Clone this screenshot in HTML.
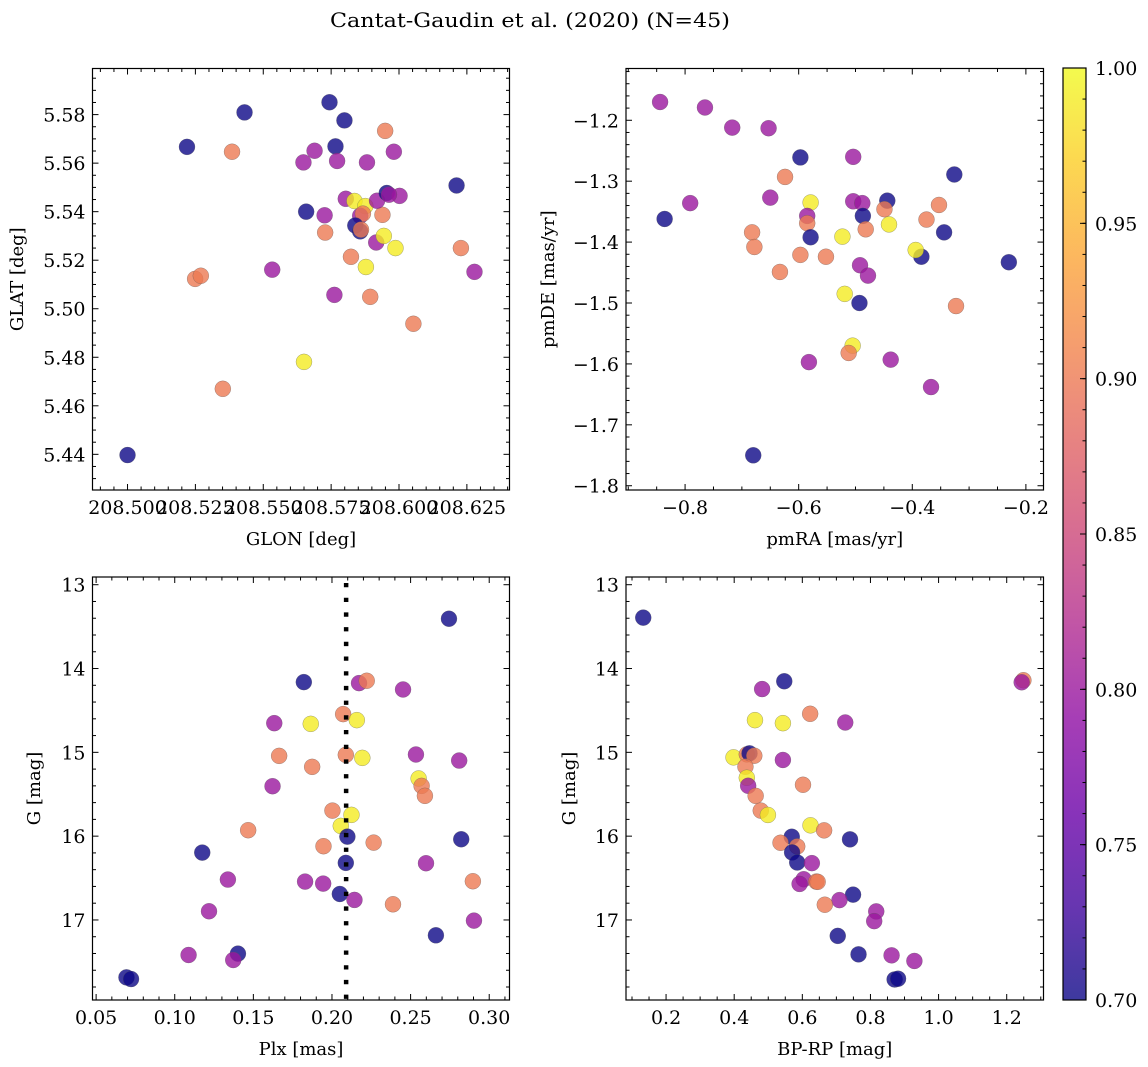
<!DOCTYPE html>
<html><head><meta charset="utf-8">
<style>
html,body{margin:0;padding:0;background:#fff;}
svg{display:block;font-family:"DejaVu Serif","Liberation Serif",serif;}
</style></head>
<body>
<svg id="fig" width="1148" height="1067" viewBox="0 0 1148 1067" xmlns="http://www.w3.org/2000/svg">
<rect width="1148" height="1067" fill="#fff"/>
<text x="530" y="27" font-size="20" text-anchor="middle" fill="#000" textLength="400" lengthAdjust="spacingAndGlyphs">Cantat-Gaudin et al. (2020) (N=45)</text>
<g id="layer"></g>
</svg>
<script>
// ---- Panel 1: GLON / GLAT ----
const glon = [208.5000,208.5219,208.5431,208.5385,208.5351,208.5249,208.5270,208.5533,208.5650,208.5658,208.5744,208.5799,208.5766,208.5648,208.5689,208.5772,208.5882,208.5981,208.5949,208.5726,208.5728,208.5804,208.5836,208.5876,208.5857,208.5867,208.5939,208.5919,208.5955,208.6002,208.5839,208.5857,208.5860,208.5823,208.5878,208.5916,208.5944,208.5987,208.5762,208.5894,208.6053,208.6212,208.6228,208.6278,208.5963];
const glat = [5.4397,5.5667,5.5809,5.5647,5.4670,5.5123,5.5136,5.5161,5.4781,5.5400,5.5851,5.5776,5.5669,5.5603,5.5651,5.5609,5.5603,5.5647,5.5733,5.5385,5.5314,5.5453,5.5444,5.5423,5.5383,5.5392,5.5387,5.5445,5.5477,5.5465,5.5343,5.5319,5.5326,5.5214,5.5172,5.5273,5.5300,5.5250,5.5057,5.5049,5.4938,5.5508,5.5250,5.5152,5.5470];
const prob1 = [0.70,0.70,0.70,0.90,0.90,0.90,0.90,0.80,0.99,0.70,0.70,0.70,0.70,0.80,0.80,0.80,0.80,0.80,0.90,0.80,0.90,0.80,0.99,0.99,0.80,0.90,0.90,0.80,0.70,0.80,0.70,0.70,0.90,0.90,0.99,0.80,0.99,0.99,0.80,0.90,0.90,0.70,0.90,0.80,0.80];
// ---- Panel 2: pmRA / pmDE ----
const pmra = [-0.844,-0.765,-0.717,-0.653,-0.597,-0.504,-0.624,-0.326,-0.791,-0.836,-0.650,-0.579,-0.585,-0.585,-0.579,-0.682,-0.678,-0.597,-0.552,-0.633,-0.523,-0.504,-0.488,-0.487,-0.482,-0.444,-0.449,-0.441,-0.492,-0.478,-0.519,-0.493,-0.505,-0.512,-0.582,-0.438,-0.367,-0.323,-0.680,-0.375,-0.353,-0.344,-0.384,-0.394,-0.230];
const pmde = [-1.170,-1.179,-1.212,-1.213,-1.261,-1.260,-1.293,-1.289,-1.336,-1.362,-1.327,-1.335,-1.357,-1.369,-1.392,-1.384,-1.408,-1.421,-1.424,-1.449,-1.391,-1.333,-1.336,-1.357,-1.379,-1.332,-1.346,-1.371,-1.438,-1.455,-1.485,-1.500,-1.570,-1.582,-1.597,-1.593,-1.638,-1.505,-1.750,-1.363,-1.339,-1.384,-1.424,-1.413,-1.433];
const prob2 = [0.80,0.80,0.80,0.80,0.70,0.80,0.90,0.70,0.80,0.70,0.80,0.99,0.80,0.90,0.70,0.90,0.90,0.90,0.90,0.90,0.99,0.80,0.80,0.70,0.90,0.70,0.90,0.99,0.80,0.80,0.99,0.70,0.99,0.90,0.80,0.80,0.80,0.90,0.70,0.90,0.90,0.70,0.70,0.99,0.70];
// ---- Panel 3: Plx / G ----
const plx = [0.2744,0.1821,0.2172,0.2221,0.2452,0.2071,0.2158,0.1865,0.1633,0.1664,0.2088,0.2193,0.2534,0.2809,0.1874,0.1622,0.2551,0.2570,0.2591,0.2003,0.2124,0.2056,0.1467,0.2098,0.2822,0.1175,0.1946,0.2265,0.2088,0.2598,0.1338,0.1829,0.1944,0.2896,0.2050,0.2143,0.2388,0.1218,0.2903,0.2661,0.1088,0.1402,0.1372,0.0693,0.0722];
const gmag3 = [13.406,14.162,14.174,14.146,14.250,14.544,14.616,14.660,14.652,15.042,15.030,15.066,15.026,15.098,15.173,15.404,15.312,15.400,15.519,15.695,15.746,15.878,15.929,16.006,16.037,16.196,16.120,16.077,16.319,16.323,16.518,16.542,16.566,16.538,16.690,16.761,16.813,16.896,17.008,17.183,17.418,17.402,17.478,17.685,17.705];
const prob3 = [0.70,0.70,0.80,0.90,0.80,0.90,0.99,0.99,0.80,0.90,0.90,0.99,0.80,0.80,0.90,0.80,0.99,0.90,0.90,0.90,0.99,0.99,0.90,0.70,0.70,0.70,0.90,0.90,0.70,0.80,0.80,0.80,0.80,0.90,0.70,0.80,0.90,0.80,0.80,0.70,0.80,0.70,0.80,0.70,0.70];
const plxLine = 0.209;
// ---- Panel 4: BP-RP / G ----
const bprp = [0.133,0.547,0.482,1.249,1.244,0.623,0.461,0.543,0.726,0.398,0.437,0.445,0.459,0.543,0.433,0.437,0.441,0.602,0.463,0.478,0.499,0.624,0.664,0.569,0.740,0.536,0.585,0.570,0.585,0.628,0.604,0.592,0.641,0.645,0.749,0.709,0.666,0.817,0.811,0.704,0.765,0.862,0.929,0.871,0.881];
const gmag4 = [13.393,14.152,14.245,14.140,14.164,14.540,14.616,14.652,14.644,15.060,15.024,15.012,15.040,15.091,15.171,15.303,15.399,15.387,15.519,15.695,15.747,15.871,15.931,16.007,16.038,16.079,16.123,16.194,16.314,16.322,16.514,16.570,16.542,16.545,16.698,16.763,16.818,16.898,17.014,17.190,17.410,17.422,17.489,17.710,17.701];
const prob4 = [0.70,0.70,0.80,0.90,0.80,0.90,0.99,0.99,0.80,0.99,0.90,0.70,0.90,0.80,0.90,0.99,0.80,0.90,0.90,0.90,0.99,0.99,0.90,0.70,0.70,0.90,0.90,0.70,0.70,0.80,0.80,0.80,0.90,0.90,0.70,0.80,0.90,0.80,0.80,0.70,0.70,0.80,0.80,0.70,0.70];
// ---- Colorbar ----
const cbTicks = [0.70,0.75,0.80,0.85,0.90,0.95,1.00];

const NS = "http://www.w3.org/2000/svg";
const layer = document.getElementById('layer');
function mk(tag, attrs, parent){
  const e = document.createElementNS(NS, tag);
  for (const k in attrs) e.setAttribute(k, attrs[k]);
  (parent||layer).appendChild(e);
  return e;
}
const plasmaStops = ["#0d0887","#41049d","#6a00a8","#8f0da4","#b12a90","#cc4778","#e16462","#f2844b","#fca636","#fcce25","#f0f921"];
function hex(h){return [parseInt(h.substr(1,2),16),parseInt(h.substr(3,2),16),parseInt(h.substr(5,2),16)];}
function plasma(t){
  t=Math.max(0,Math.min(1,t));
  const f=t*10, i=Math.min(9,Math.floor(f)), r=f-i;
  const a=hex(plasmaStops[i]), b=hex(plasmaStops[i+1]);
  return "rgb("+a.map((v,k)=>Math.round(v+(b[k]-v)*r)).join(",")+")";
}
function colorOf(p){return plasma((p-0.70)/0.30);}
const minus = s => s.replace("-", "\u2212");
const TICKFS = 19, LABFS = 18;

function panel(cfg){
  const {name,x0,x1,y0,y1,xlim,ylim,yInvert} = cfg;
  const sx = v => x0 + (v - xlim[0]) / (xlim[1]-xlim[0]) * (x1-x0);
  const sy = yInvert ? (v => y0 + (v - ylim[0])/(ylim[1]-ylim[0])*(y1-y0))
                     : (v => y1 - (v - ylim[0])/(ylim[1]-ylim[0])*(y1-y0));
  const g = mk('g', {});
  
  
  const ymin=Math.min(ylim[0],ylim[1]), ymax=Math.max(ylim[0],ylim[1]);
  const pts = mk('g', {}, g);
  
  
  for (let i=0;i<cfg.xs.length;i++){
    const c = mk('circle', {cx:sx(cfg.xs[i]), cy:sy(cfg.ys[i]), r:8, fill:colorOf(cfg.ps[i]), 'fill-opacity':0.8, stroke:'rgba(90,90,90,0.55)', 'stroke-width':0.5}, pts);
    
    
  }
  if (cfg.vline !== undefined){
    const l = mk('line', {x1:sx(cfg.vline), x2:sx(cfg.vline), y1:y0+6, y2:y1, stroke:'#000', 'stroke-width':4.5, 'stroke-dasharray':'4.3,10.4'}, g);
    
    
  }
  const tg = mk('g', {stroke:'#000','stroke-width':1}, g);
  
  
  const eps=1e-9;
  for (let v=Math.ceil((xlim[0])/cfg.xminor-eps)*cfg.xminor; v<=xlim[1]+eps; v+=cfg.xminor){
    const X=sx(v); const maj = Math.abs(v/cfg.xmajor - Math.round(v/cfg.xmajor))<1e-6;
    const L = maj?6:3.5;
    mk('line',{x1:X,x2:X,y1:y1,y2:y1-L},tg); mk('line',{x1:X,x2:X,y1:y0,y2:y0+L},tg);
    if (maj){
      const t = mk('text',{x:X,y:y1+24,'font-size':TICKFS,'text-anchor':'middle',fill:'#000',stroke:'none'},g);
      t.textContent = minus(v.toFixed(cfg.xdec));
      
      
    }
  }
  for (let v=Math.ceil(ymin/cfg.yminor-eps)*cfg.yminor; v<=ymax+eps; v+=cfg.yminor){
    const Y=sy(v); const maj = Math.abs(v/cfg.ymajor - Math.round(v/cfg.ymajor))<1e-6;
    const L = maj?6:3.5;
    mk('line',{x1:x0,x2:x0+L,y1:Y,y2:Y},tg); mk('line',{x1:x1,x2:x1-L,y1:Y,y2:Y},tg);
    if (maj){
      const t = mk('text',{x:x0-7,y:Y+7,'font-size':TICKFS,'text-anchor':'end',fill:'#000',stroke:'none'},g);
      t.textContent = minus(v.toFixed(cfg.ydec));
      
      
    }
  }
  const fr = mk('rect',{x:x0,y:y0,width:x1-x0,height:y1-y0,fill:'none',stroke:'#000','stroke-width':1.2},g);
  
  
  const xl = mk('text',{x:(x0+x1)/2,y:y1+55,'font-size':LABFS,'text-anchor':'middle',fill:'#000'},g);
  xl.textContent = cfg.xlabel;
  
  
  const yx = cfg.ylabelX, yy=(y0+y1)/2;
  const yl = mk('text',{x:yx,y:yy,'font-size':LABFS,'text-anchor':'middle',fill:'#000',transform:`rotate(-90 ${yx} ${yy})`},g);
  yl.textContent = cfg.ylabel;
  
  
}

panel({name:'glon-glat',x0:92.5,x1:509.5,y0:68.5,y1:490,xlim:[208.4871,208.6407],ylim:[5.4253,5.599],
  xs:glon,ys:glat,ps:prob1,xmajor:0.025,xminor:0.005,ymajor:0.02,yminor:0.005,xdec:3,ydec:2,
  xlabel:'GLON [deg]',ylabel:'GLAT [deg]',ylabelX:23});
panel({name:'pm',x0:626,x1:1043.5,y0:68.5,y1:490,xlim:[-0.904,-0.169],ylim:[-1.807,-1.115],
  xs:pmra,ys:pmde,ps:prob2,xmajor:0.2,xminor:0.05,ymajor:0.1,yminor:0.02,xdec:1,ydec:1,
  xlabel:'pmRA [mas/yr]',ylabel:'pmDE [mas/yr]',ylabelX:554});
panel({name:'plx-g',x0:92.5,x1:509.5,y0:577,y1:1000,xlim:[0.0477,0.3129],ylim:[12.908,17.955],yInvert:true,
  xs:plx,ys:gmag3,ps:prob3,xmajor:0.05,xminor:0.01,ymajor:1,yminor:0.2,xdec:2,ydec:0,vline:plxLine,
  xlabel:'Plx [mas]',ylabel:'G [mag]',ylabelX:40});
panel({name:'cmd',x0:626,x1:1043.5,y0:577,y1:1000,xlim:[0.0824,1.308],ylim:[12.908,17.955],yInvert:true,
  xs:bprp,ys:gmag4,ps:prob4,xmajor:0.2,xminor:0.05,ymajor:1,yminor:0.2,xdec:1,ydec:0,
  xlabel:'BP-RP [mag]',ylabel:'G [mag]',ylabelX:575});

(function(){
  const cx0=1063, cx1=1086, cy0=68, cy1=1000;
  const g = mk('g',{});
  
  
  const defs = mk('defs',{},g);
  const lg = mk('linearGradient',{id:'cbg',x1:0,y1:1,x2:0,y2:0},defs);
  for (let i=0;i<=20;i++){
    mk('stop',{offset:(i/20),'stop-color':plasma(i/20),'stop-opacity':0.8},lg);
  }
  const r = mk('rect',{x:cx0,y:cy0,width:cx1-cx0,height:cy1-cy0,fill:'url(#cbg)',stroke:'#000','stroke-width':1.2},g);
  
  
  const lo=cbTicks[0], hi=cbTicks[cbTicks.length-1];
  const sy = v => cy1 - (v-lo)/(hi-lo)*(cy1-cy0);
  for (let v=lo; v<=hi+1e-9; v+=0.01){
    const Y=sy(v);
    mk('line',{x1:cx1,x2:cx1-3.5,y1:Y,y2:Y,stroke:'#000','stroke-width':1},g);
  }
  cbTicks.forEach(v=>{
    const Y=sy(v);
    mk('line',{x1:cx1,x2:cx1-6,y1:Y,y2:Y,stroke:'#000','stroke-width':1},g);
    const t = mk('text',{x:cx1+9,y:Y+7,'font-size':TICKFS,fill:'#000'},g);
    t.textContent = v.toFixed(2);
    
    
  });
})();
</script>
</body></html>
